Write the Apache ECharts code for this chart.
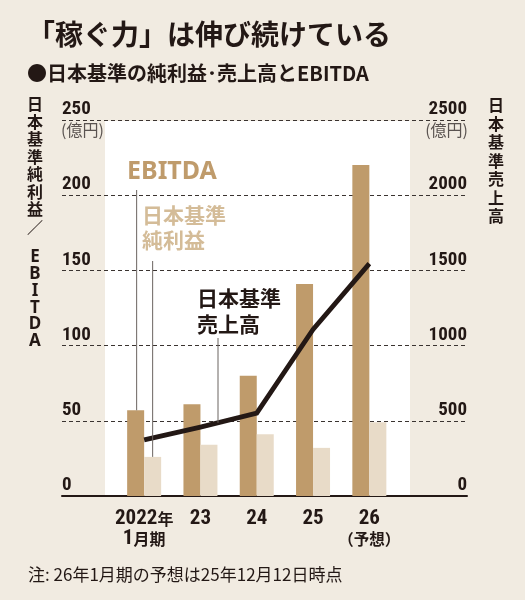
<!DOCTYPE html>
<html>
<head>
<meta charset="utf-8">
<script src="https://cdn.jsdelivr.net/npm/echarts@6/dist/echarts.min.js"></script>
<style>
html,body{margin:0;padding:0;background:#f1ebe1;}
#c{width:525px;height:600px;}
</style>
</head>
<body>
<div id="c"></div>
<script>
// ---- data ----
const categories = ['2022年\n1月期', '23', '24', '25', '26\n（予想）'];
const ebitda = [57, 61, 80, 141, 220];        // 億円 (left axis)
const netIncome = [26, 34, 41, 32, 49];       // 億円 (left axis)
const sales = [373, 458, 551, 1107, 1545];    // 億円 (right axis)
const leftMin = 0, leftMax = 250, leftInterval = 50;
const rightMin = 0, rightMax = 2500, rightInterval = 500;

const BG = '#f1ebe1';
const DARK = '#231815';
const TAN = '#bf9b6b';
const LIGHT = '#e8dbc8';
const NUMFONT = "'Roboto Condensed','Open Sans Condensed',sans-serif";
const JPFONT = "'Noto Sans CJK JP','Noto Sans',sans-serif";

const chart = echarts.init(document.getElementById('c'), null, {renderer: 'canvas'});

const TOP = 120, BOTTOM = 104;

function richLabel(v) {
  return v.split('\n').map(function (line) {
    return line.replace(/([0-9]+)|([^0-9]+)/g, function (m, d, o) {
      if (d) return '{n|' + d + '}';
      if (o.indexOf('（') >= 0) return '{p|' + o + '}';
      return '{k|' + o + '}';
    });
  }).join('\n');
}
const plainNum = function (v) { return String(v); };

const option = {
  backgroundColor: BG,
  animation: false,
  grid: [
    {left: 105, right: 115, top: TOP + 1, bottom: BOTTOM, show: true, backgroundColor: '#ffffff', borderWidth: 0},
    {left: 62, right: 58, top: TOP, bottom: BOTTOM},
    {left: 116, right: 127.5, top: TOP, bottom: BOTTOM}
  ],
  xAxis: [
    {gridIndex: 0, type: 'value', min: 0, max: 1, show: false},
    {gridIndex: 1, type: 'value', min: 0, max: 1,
      axisLine: {show: true, onZero: false, lineStyle: {color: DARK, width: 2}},
      axisTick: {show: false}, axisLabel: {show: false}, splitLine: {show: false}},
    {gridIndex: 2, type: 'category', data: categories,
      axisLine: {show: false}, axisTick: {show: false},
      axisLabel: {
        margin: 13, interval: 0, color: DARK,
        formatter: richLabel,
        rich: {
          n: {fontFamily: NUMFONT, fontWeight: 'bold', fontSize: 21, color: DARK, lineHeight: 20},
          k: {fontFamily: JPFONT, fontWeight: 'bold', fontSize: 16, color: DARK, lineHeight: 20},
          p: {fontFamily: JPFONT, fontWeight: 'bold', fontSize: 15.5, color: DARK, lineHeight: 20}
        }
      }}
  ],
  yAxis: [
    {gridIndex: 0, type: 'value', min: 0, max: 1, show: false},
    {gridIndex: 1, type: 'value', position: 'left', min: leftMin, max: leftMax, interval: leftInterval,
      axisLine: {show: false}, axisTick: {show: false},
      axisLabel: {inside: true, margin: 0, verticalAlign: 'bottom', padding: [0, 0, 1, 0], formatter: plainNum,
        fontFamily: NUMFONT, fontWeight: 'bold', fontSize: 19, color: DARK},
      splitLine: {show: true, lineStyle: {type: [4, 3], color: '#3a3330', width: 1}}},
    {gridIndex: 1, type: 'value', position: 'right', min: rightMin, max: rightMax, interval: rightInterval,
      axisLine: {show: false}, axisTick: {show: false},
      axisLabel: {inside: true, margin: 0, verticalAlign: 'bottom', padding: [0, 0, 1, 0], formatter: plainNum,
        fontFamily: NUMFONT, fontWeight: 'bold', fontSize: 19, color: DARK},
      splitLine: {show: false}},
    {gridIndex: 2, type: 'value', min: leftMin, max: leftMax, show: false},
    {gridIndex: 2, type: 'value', min: rightMin, max: rightMax, show: false}
  ],
  series: [
    {name: 'EBITDA', type: 'bar', xAxisIndex: 2, yAxisIndex: 3, data: ebitda,
      barWidth: 17, barGap: '0%', itemStyle: {color: TAN}, z: 2},
    {name: '日本基準純利益', type: 'bar', xAxisIndex: 2, yAxisIndex: 3, data: netIncome,
      barWidth: 17, barGap: '0%', itemStyle: {color: LIGHT}, z: 2},
    {name: '日本基準売上高', type: 'line', xAxisIndex: 2, yAxisIndex: 4, data: sales,
      showSymbol: false, symbol: 'none', lineStyle: {color: DARK, width: 4.8, join: 'miter'}, z: 5}
  ]
};
chart.setOption(option);

function px(i, v, yIdx) {
  return chart.convertToPixel({xAxisIndex: 2, yAxisIndex: yIdx}, [i, v]);
}
const e0 = px(0, ebitda[0], 3);
const n0 = px(0, netIncome[0], 3);
const s1 = px(1, sales[1], 4);
const s2 = px(2, sales[2], 4);
const sx = 218;
const sy = s1[1] + (sx - s1[0]) / (s2[0] - s1[0]) * (s2[1] - s1[1]);

const leader = {stroke: '#6b6460', lineWidth: 1};

chart.setOption({
  graphic: [
    {type: 'text', left: 27, top: 20, style: {text: '「稼ぐ力」は伸び続けている', fontFamily: JPFONT, fontWeight: 'bold', fontSize: 28, fill: DARK}},
    {type: 'text', left: 27, top: 63, style: {text: '●日本基準の純利益･売上高とEBITDA', fontFamily: JPFONT, fontWeight: 'bold', fontSize: 20, fill: DARK}},
    {type: 'text', x: 35, y: 95.5, style: {text: '日\n本\n基\n準\n純\n利\n益\n／', fontFamily: JPFONT, fontWeight: 'bold', fontSize: 16, lineHeight: 17.5, align: 'center', verticalAlign: 'top', fill: DARK}},
    {type: 'text', x: 35, y: 249, style: {text: 'E\nB\nI\nT\nD\nA', fontFamily: "'Noto Sans',sans-serif", fontWeight: 'bold', fontSize: 17, lineHeight: 16.8, align: 'center', verticalAlign: 'top', fill: DARK}},
    {type: 'text', x: 496, y: 96, style: {text: '日\n本\n基\n準\n売\n上\n高', fontFamily: JPFONT, fontWeight: 'bold', fontSize: 16, lineHeight: 18.5, align: 'center', verticalAlign: 'top', fill: DARK}},
    {type: 'text', x: 61, y: 122, style: {text: '(億円)', fontFamily: JPFONT, fontSize: 16, fill: '#5a5350', align: 'left', verticalAlign: 'top'}},
    {type: 'text', x: 468, y: 122, style: {text: '(億円)', fontFamily: JPFONT, fontSize: 16, fill: '#5a5350', align: 'right', verticalAlign: 'top'}},
    {type: 'text', x: 127, y: 159, z: 10, style: {text: 'EBITDA', fontFamily: "'Noto Sans',sans-serif", fontWeight: 'bold', fontSize: 25, fill: TAN, verticalAlign: 'top'}},
    {type: 'text', x: 142, y: 203, z: 10, style: {text: '日本基準\n純利益', fontFamily: JPFONT, fontWeight: 'bold', fontSize: 21, lineHeight: 24.5, fill: '#d4bc98', verticalAlign: 'top'}},
    {type: 'text', x: 197, y: 285, z: 10, style: {text: '日本基準\n売上高', fontFamily: JPFONT, fontWeight: 'bold', fontSize: 21, lineHeight: 26, fill: DARK, verticalAlign: 'top'}},
    {type: 'line', z: 10, shape: {x1: e0[0] - 7.5, y1: 190, x2: e0[0] - 7.5, y2: e0[1]}, style: leader},
    {type: 'line', z: 10, shape: {x1: n0[0] + 8.5, y1: 261, x2: n0[0] + 8.5, y2: n0[1]}, style: leader},
    {type: 'line', z: 10, shape: {x1: sx, y1: 338, x2: sx, y2: sy}, style: leader},
    {type: 'text', left: 28, top: 566, style: {text: '注: 26年1月期の予想は25年12月12日時点', fontFamily: JPFONT, fontSize: 17, fill: DARK}}
  ]
});
</script>
</body>
</html>
